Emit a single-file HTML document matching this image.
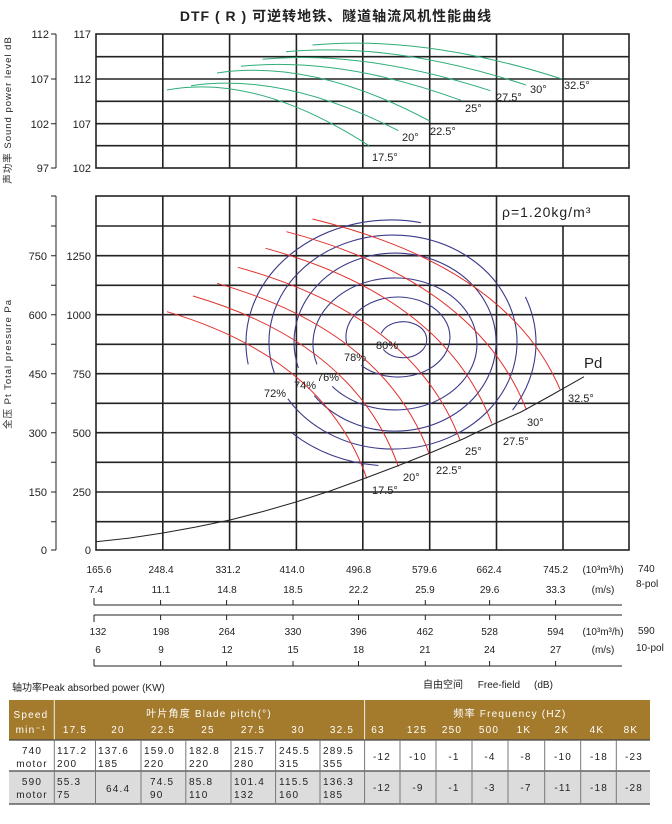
<!DOCTYPE html>
<html><head><meta charset="utf-8"><style>
html,body{margin:0;padding:0;background:#fff;}
svg{display:block;font-family:"Liberation Sans","Noto Sans CJK SC",sans-serif;}
</style></head><body>
<svg width="672" height="824" viewBox="0 0 672 824" xmlns="http://www.w3.org/2000/svg">
<text x="336" y="21" text-anchor="middle" font-size="14" font-weight="bold" fill="#222" letter-spacing="1">DTF ( R ) 可逆转地铁、隧道轴流风机性能曲线</text>

<!-- top chart -->
<g stroke="#222" stroke-width="1.6" fill="none">
<rect x="96" y="34" width="533" height="134"/>
<path d="M162.8 34V168M229.6 34V168M296.4 34V168M362.8 34V168M429.7 34V168M496.5 34V168M563 34V168"/>
<path d="M96 56.7H629M96 79H629M96 101.3H629M96 123.7H629M96 145.7H629"/>
</g>
<g stroke="#222" stroke-width="1" fill="none"><path d="M56 34V168M51 34H56M51 79H56M51 123.7H56M51 168H56"/></g>
<g font-size="11" fill="#222" text-anchor="end">
<text x="49" y="38">112</text><text x="49" y="83">107</text><text x="49" y="128">102</text><text x="49" y="172">97</text>
<text x="91" y="38">117</text><text x="91" y="83">112</text><text x="91" y="128">107</text><text x="91" y="172">102</text>
</g>
<text transform="translate(11,110) rotate(-90)" text-anchor="middle" font-size="9.5" fill="#222" letter-spacing="1">声功率 Sound power level dB</text>
<g stroke="#2fae78" stroke-width="1" fill="none">
<path d="M167 90Q257 73.3 369 145.7"/>
<path d="M191 85.7Q284 72.2 398.4 130.7"/>
<path d="M217 73Q313 58.6 429.7 121"/>
<path d="M241 66.3Q340 56.1 461 100.3"/>
<path d="M262.6 59.3Q365 49.9 490.5 90.7"/>
<path d="M286 51.7Q394 41.7 526 85"/>
<path d="M312.5 45Q425 34.8 562 79"/>
</g>
<g font-size="11" fill="#222">
<text x="372" y="161">17.5°</text><text x="402" y="141">20°</text><text x="430" y="135">22.5°</text>
<text x="465" y="112">25°</text><text x="496" y="101">27.5°</text><text x="530" y="93">30°</text><text x="564" y="89">32.5°</text>
</g>

<!-- main chart -->
<rect x="496.5" y="196" width="132.5" height="30" fill="#fff"/>
<g stroke="#222" stroke-width="1.6" fill="none">
<rect x="96" y="196" width="533" height="354"/>
<path d="M162.8 196V550M229.6 196V550M296.4 196V550M362.8 196V550M429.7 196V550M496.5 196V550M563 226V550"/>
<path d="M96 226H629M96 255.7H629M96 285.3H629M96 314.7H629M96 344.3H629M96 373.7H629M96 403.3H629M96 432.7H629M96 462.3H629M96 492H629M96 521.7H629"/>
</g>
<g stroke="#222" stroke-width="1" fill="none"><path d="M56 196V550M51 196H56M51 226H56M51 255.7H56M51 285.3H56M51 314.7H56M51 344.3H56M51 373.7H56M51 403.3H56M51 432.7H56M51 462.3H56M51 492H56M51 521.7H56M51 550H56"/></g>
<g font-size="11" fill="#222" text-anchor="end">
<text x="47" y="260">750</text><text x="47" y="319">600</text><text x="47" y="378">450</text><text x="47" y="437">300</text><text x="47" y="496">150</text><text x="47" y="554">0</text>
<text x="91" y="260">1250</text><text x="91" y="319">1000</text><text x="91" y="378">750</text><text x="91" y="437">500</text><text x="91" y="496">250</text><text x="91" y="554">0</text>
</g>
<text transform="translate(11,364) rotate(-90)" text-anchor="middle" font-size="9.5" fill="#222" letter-spacing="1">全压 Pt Total pressure Pa</text>
<text x="502" y="217" font-size="14" fill="#222" letter-spacing="1">ρ=1.20kg/m³</text>

<!-- efficiency rings -->
<g stroke="#3a3a88" stroke-width="1.1" fill="none">
<path d="M381.2 333.4A23.5 18 0 1 1 383.3 349.3"/>
<path d="M346.6 343.3A52 40 0 1 1 361.2 365.3"/>
<path d="M317 364.4A82 66 0 1 1 332.2 386.4"/>
<path d="M298.4 368A101 89 0 1 1 314.3 395.6"/>
<path d="M274.4 373.3A124 107 0 1 1 287.8 398.7"/>
<path d="M248.2 364.4A145 123 0 0 1 421.1 222.7"/>
<path d="M525.4 296.9A145 123 0 0 1 512.6 410"/>
<path d="M378.4 465.5A145 123 0 0 1 292.1 433"/>
</g>
<!-- pitch lines -->
<g stroke="#e0302c" stroke-width="1" fill="none">
<path d="M167 311.7Q324.8 358.3 366.7 478.3"/>
<path d="M193 296Q355.3 343.8 398.4 466.7"/>
<path d="M217 283.3Q385 331.4 429.7 455"/>
<path d="M237.8 267.3Q413.3 315.7 460 440"/>
<path d="M265.6 248.3Q444.3 297.3 491.8 423.3"/>
<path d="M286.5 231.7Q476.1 281.6 526.5 410"/>
<path d="M312.5 219Q508 266.7 560 389.3"/>
</g>
<polyline points="96,541.7 130,538 163,533 196,527 230,520 263,511.5 296,502 330,491 363,479 396,466.5 430,453 463,439 496,423 521,412 550,396 584,376.7" fill="none" stroke="#222" stroke-width="1"/>
<g font-size="11" fill="#222">
<text x="376" y="349">80%</text><text x="344" y="361">78%</text><text x="317" y="381">76%</text><text x="294" y="389">74%</text><text x="264" y="397">72%</text>
<text x="372" y="494">17.5°</text><text x="403" y="481">20°</text><text x="436" y="474">22.5°</text><text x="465" y="455">25°</text><text x="503" y="445">27.5°</text><text x="527" y="426">30°</text><text x="568" y="402">32.5°</text>
</g>
<text x="584" y="368" font-size="15" fill="#222">Pd</text>

<!-- bottom scales -->
<g font-size="10" fill="#222" text-anchor="middle">
<text x="99" y="573">165.6</text><text x="161" y="573">248.4</text><text x="228" y="573">331.2</text><text x="292" y="573">414.0</text><text x="358.5" y="573">496.8</text><text x="424.5" y="573">579.6</text><text x="489" y="573">662.4</text><text x="555.6" y="573">745.2</text><text x="603" y="573">(10³m³/h)</text>
<text x="96" y="593">7.4</text><text x="161" y="593">11.1</text><text x="227" y="593">14.8</text><text x="293" y="593">18.5</text><text x="358.5" y="593">22.2</text><text x="425" y="593">25.9</text><text x="489.6" y="593">29.6</text><text x="555.6" y="593">33.3</text><text x="603" y="593">(m/s)</text>
<text x="98" y="635">132</text><text x="161" y="635">198</text><text x="227" y="635">264</text><text x="293" y="635">330</text><text x="358.5" y="635">396</text><text x="425" y="635">462</text><text x="489.6" y="635">528</text><text x="555.6" y="635">594</text><text x="603" y="635">(10³m³/h)</text>
<text x="98" y="653">6</text><text x="161" y="653">9</text><text x="227" y="653">12</text><text x="293" y="653">15</text><text x="358.5" y="653">18</text><text x="425" y="653">21</text><text x="489.6" y="653">24</text><text x="555.6" y="653">27</text><text x="603" y="653">(m/s)</text>
</g>
<g font-size="10" fill="#222">
<text x="638" y="572">740</text><text x="636" y="587">8-pol</text>
<text x="638" y="634">590</text><text x="636" y="651">10-pol</text>
</g>
<g stroke="#222" stroke-width="1" fill="none">
<path d="M94 605H622M94 598V605M160.6 600V605M226.6 600V605M293 600V605M358.5 600V605M425.3 600V605M489.6 600V605M555.6 600V605"/>
<path d="M94 615H622M94 615V622M160.6 615V620M226.6 615V620M293 615V620M358.5 615V620M425.3 615V620M489.6 615V620M555.6 615V620"/>
<path d="M94 666H622M94 659V666M160.6 661V666M226.6 661V666M293 661V666M358.5 661V666M425.3 661V666M489.6 661V666M555.6 661V666"/>
</g>
<text x="12" y="691" font-size="10" fill="#222">轴功率Peak absorbed power (KW)</text>
<text x="423" y="688" font-size="10" fill="#222">自由空间 <tspan dx="12">Free-field</tspan><tspan dx="14">(dB)</tspan></text>

<!-- table -->
<rect x="9" y="700" width="641" height="40" fill="#a47a2c"/>
<rect x="9" y="740" width="641" height="31" fill="#fff"/>
<rect x="9" y="771" width="641" height="33" fill="#dcdcdc"/>
<g stroke="#eee" stroke-width="1"><path d="M54.3 700V740M364.6 700V740"/></g>
<g stroke="#444" stroke-width="1.2"><path d="M9 740H650M9 771H650M9 804H650"/></g>
<g stroke="#777" stroke-width="1"><path d="M54.3 740V804M95.5 740V804M141 740V804M185.8 740V804M231 740V804M275.6 740V804M320 740V804M364.6 740V804M400 740V804M436 740V804M472 740V804M508 740V804M544.7 740V804M580.7 740V804M616.3 740V804"/></g>
<g font-size="10" fill="#fff" letter-spacing="1.2" text-anchor="middle">
<text x="31" y="718">Speed</text><text x="31" y="733">min⁻¹</text>
<text x="209" y="717">叶片角度  Blade pitch(°)</text>
<text x="510" y="717">频率    Frequency  (HZ)</text>
<text x="75" y="733">17.5</text><text x="118" y="733">20</text><text x="163" y="733">22.5</text><text x="208" y="733">25</text><text x="253" y="733">27.5</text><text x="298" y="733">30</text><text x="342" y="733">32.5</text>
<text x="378" y="733">63</text><text x="417" y="733">125</text><text x="452" y="733">250</text><text x="489" y="733">500</text><text x="524" y="733">1K</text><text x="562" y="733">2K</text><text x="597" y="733">4K</text><text x="631" y="733">8K</text>
</g>
<g font-size="10" fill="#222" letter-spacing="1.2">
<g text-anchor="middle"><text x="32" y="754">740</text><text x="32" y="767">motor</text><text x="32" y="785">590</text><text x="32" y="798">motor</text></g>
<text x="57" y="754">117.2</text><text x="57" y="767">200</text>
<text x="98" y="754">137.6</text><text x="98" y="767">185</text>
<text x="144" y="754">159.0</text><text x="144" y="767">220</text>
<text x="189" y="754">182.8</text><text x="189" y="767">220</text>
<text x="234" y="754">215.7</text><text x="234" y="767">280</text>
<text x="279" y="754">245.5</text><text x="279" y="767">315</text>
<text x="323" y="754">289.5</text><text x="323" y="767">355</text>
<text x="57" y="785">55.3</text><text x="57" y="798">75</text>
<text x="106" y="792">64.4</text>
<text x="150" y="785">74.5</text><text x="150" y="798">90</text>
<text x="189" y="785">85.8</text><text x="189" y="798">110</text>
<text x="234" y="785">101.4</text><text x="234" y="798">132</text>
<text x="279" y="785">115.5</text><text x="279" y="798">160</text>
<text x="323" y="785">136.3</text><text x="323" y="798">185</text>
<g text-anchor="middle">
<text x="382" y="760">-12</text><text x="418" y="760">-10</text><text x="454" y="760">-1</text><text x="490" y="760">-4</text><text x="526" y="760">-8</text><text x="563" y="760">-10</text><text x="599" y="760">-18</text><text x="634" y="760">-23</text>
<text x="382" y="791">-12</text><text x="418" y="791">-9</text><text x="454" y="791">-1</text><text x="490" y="791">-3</text><text x="526" y="791">-7</text><text x="563" y="791">-11</text><text x="599" y="791">-18</text><text x="634" y="791">-28</text>
</g>
</g>
</svg>
</body></html>
